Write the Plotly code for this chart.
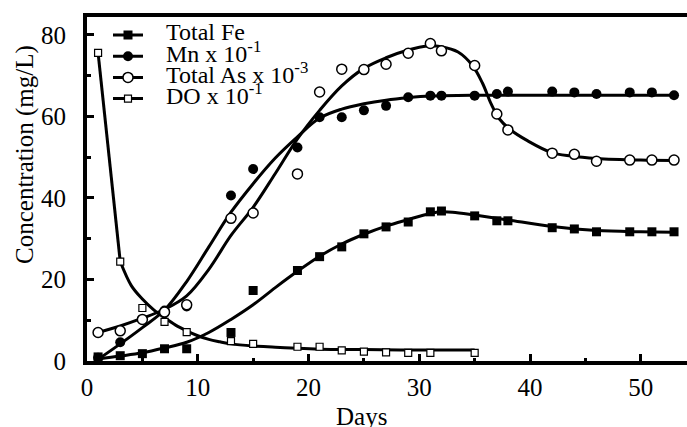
import plotly.graph_objects as go

# ---- measured points ----
days_fe = [1, 3, 5, 7, 9, 13, 15, 19, 21, 23, 25, 27, 29, 31, 32, 35, 37, 38, 42, 44, 46, 49, 51, 53]
fe = [1.0, 1.3, 1.8, 3.0, 3.0, 7.0, 17.3, 22.2, 25.6, 28.0, 31.2, 32.9, 34.1, 36.6, 36.8, 35.6, 34.4, 34.4, 32.7, 32.4, 31.7, 31.7, 31.7, 31.7]

days_mn = [1, 3, 7, 9, 13, 15, 19, 21, 23, 25, 27, 29, 31, 32, 35, 37, 38, 42, 44, 46, 49, 51, 53]
mn = [0.8, 4.6, 12.4, 13.4, 40.6, 47.1, 52.4, 59.8, 59.8, 61.5, 62.6, 64.7, 65.1, 65.1, 65.1, 65.5, 66.1, 66.1, 65.9, 65.5, 65.9, 65.9, 65.2]

days_as = [1, 3, 5, 7, 9, 13, 15, 19, 21, 23, 25, 27, 29, 31, 32, 35, 37, 38, 42, 44, 46, 49, 51, 53]
as_tot = [7.0, 7.4, 10.2, 12.0, 13.8, 35.0, 36.3, 45.9, 66.0, 71.6, 71.5, 72.8, 75.5, 77.9, 76.1, 72.5, 60.6, 56.7, 51.0, 50.7, 49.0, 49.3, 49.3, 49.3]

days_do = [1, 3, 5, 7, 9, 13, 15, 19, 21, 23, 25, 27, 29, 31, 35]
do = [75.6, 24.4, 13.0, 9.6, 7.1, 4.9, 4.2, 3.5, 3.5, 2.6, 2.3, 2.1, 2.0, 2.0, 2.0]

# ---- fitted curves ----
fe_fit_x = [1, 3, 5, 7, 9, 11, 13, 15, 17, 19, 21, 23, 25, 27, 29, 31, 32, 33, 35, 38, 42, 46, 50, 53]
fe_fit_y = [0.5, 1.2, 2.0, 3.2, 4.6, 7.0, 10.2, 13.8, 18.0, 22.0, 25.7, 28.7, 31.1, 33.1, 34.7, 36.2, 36.6, 36.5, 35.8, 34.6, 33.0, 32.0, 31.7, 31.6]

mn_fit_x = [1, 3, 5, 7, 9, 11, 13, 15, 17, 19, 21, 23, 25, 27, 29, 31, 35, 40, 45, 53]
mn_fit_y = [0.4, 4.2, 8.2, 12.5, 19.5, 28.0, 36.5, 43.5, 49.8, 55.0, 59.6, 61.8, 63.1, 64.0, 64.6, 65.0, 65.2, 65.2, 65.2, 65.2]

as_fit_x = [1, 3, 5, 7, 9, 11, 13, 15, 17, 19, 21, 23, 25, 27, 29, 30.7, 32, 33.5, 34.8, 35.7, 36.5, 37.2, 38.2, 39.8, 41.9, 43.7, 46, 50, 53]
as_fit_y = [7.0, 8.6, 10.5, 12.7, 16.0, 22.5, 30.8, 37.7, 46.0, 54.5, 61.5, 67.5, 71.8, 74.4, 76.3, 77.3, 77.1, 75.8, 72.5, 68.2, 63.0, 59.5, 56.8, 54.0, 51.2, 50.3, 49.7, 49.3, 49.2]

do_fit_x = [1, 3, 4, 5, 6, 7, 8, 9, 10, 11, 12, 13, 15, 17, 19, 21, 25, 30, 35]
do_fit_y = [75.6, 24.4, 18.5, 15.2, 12.6, 10.6, 8.8, 7.4, 6.2, 5.3, 4.7, 4.2, 3.7, 3.4, 3.1, 2.9, 2.8, 2.7, 2.7]

legend_labels = ['Total Fe', 'Mn x 10<sup>-1</sup>', 'Total As x 10<sup>-3</sup>', 'DO x 10<sup>-1</sup>']
PAD = '\u00a0\u00a0\u00a0'
names = ['<span style="font-size:24px">' + PAD + t + '</span>' for t in legend_labels]

SERIF = 'Liberation Serif, Times New Roman, serif'
LW = 3
fig = go.Figure()

line = dict(color='black', width=LW, shape='spline', smoothing=1.0)
fig.add_trace(go.Scatter(x=fe_fit_x, y=fe_fit_y, mode='lines', line=line, showlegend=False, hoverinfo='skip'))
fig.add_trace(go.Scatter(x=mn_fit_x, y=mn_fit_y, mode='lines', line=line, showlegend=False, hoverinfo='skip'))
fig.add_trace(go.Scatter(x=as_fit_x, y=as_fit_y, mode='lines', line=line, showlegend=False, hoverinfo='skip'))
fig.add_trace(go.Scatter(x=do_fit_x[:2], y=do_fit_y[:2], mode='lines', line=dict(color='black', width=LW), showlegend=False, hoverinfo='skip'))
fig.add_trace(go.Scatter(x=do_fit_x[1:], y=do_fit_y[1:], mode='lines', line=line, showlegend=False, hoverinfo='skip'))

mk_fe = dict(symbol='square', size=9, color='black', line=dict(width=0))
mk_mn = dict(symbol='circle', size=10, color='black', line=dict(width=0))
mk_as = dict(symbol='circle', size=10, color='white', line=dict(width=1.5, color='black'))
mk_do = dict(symbol='square', size=7, color='white', line=dict(width=1.2, color='black'))

fig.add_trace(go.Scatter(x=days_do, y=do, mode='markers', marker=mk_do, showlegend=False))
fig.add_trace(go.Scatter(x=days_fe, y=fe, mode='markers', marker=mk_fe, showlegend=False))
fig.add_trace(go.Scatter(x=days_mn, y=mn, mode='markers', marker=mk_mn, showlegend=False))
fig.add_trace(go.Scatter(x=days_as, y=as_tot, mode='markers', marker=mk_as, showlegend=False))

# legend entries (line + marker)
for nm, mk in zip(names, [mk_fe, mk_mn, mk_as, mk_do]):
    fig.add_trace(go.Scatter(x=[None], y=[None], mode='lines+markers', name=nm,
                             marker=mk, line=dict(color='black', width=LW)))

fig.update_layout(
    width=687, height=427,
    margin=dict(l=87, r=0, t=17, b=66),
    plot_bgcolor='white', paper_bgcolor='white',
    font=dict(family=SERIF, color='black'),
    showlegend=True,
    legend=dict(x=0.035, y=0.993, xanchor='left', yanchor='top',
                font=dict(size=14, family=SERIF, color='black'),
                bgcolor='rgba(0,0,0,0)', tracegroupgap=0, itemwidth=30),
    annotations=[
        dict(text='Concentration (mg/L)', xref='paper', yref='paper', x=-0.1033, y=0.599,
             xanchor='center', yanchor='middle', textangle=-90, showarrow=False,
             font=dict(size=25, family=SERIF, color='black')),
        dict(text='Days', xref='paper', yref='paper', x=0.4575, y=-0.162,
             xanchor='center', yanchor='middle', showarrow=False,
             font=dict(size=25, family=SERIF, color='black')),
    ],
)

fig.update_xaxes(range=[0, 54.17], showline=True, linewidth=4, linecolor='black', mirror=True,
                 ticks='inside', ticklen=7, tickwidth=3, tickcolor='black',
                 tick0=0, dtick=10, showgrid=False, zeroline=False,
                 tickfont=dict(size=25, family=SERIF, color='black'),
                 minor=dict(dtick=5, tick0=0, ticks='inside', ticklen=3, tickwidth=3, tickcolor='black', showgrid=False),
                 ticklabelstandoff=1)
fig.update_yaxes(range=[0, 84.4], showline=True, linewidth=4, linecolor='black', mirror=False,
                 ticks='inside', ticklen=7, tickwidth=3, tickcolor='black',
                 tick0=0, dtick=20, showgrid=False, zeroline=False,
                 tickfont=dict(size=25, family=SERIF, color='black'),
                 minor=dict(dtick=10, tick0=0, ticks='inside', ticklen=4, tickwidth=3, tickcolor='black', showgrid=False),
                 ticklabelstandoff=12)

fig.write_html('out.html')
